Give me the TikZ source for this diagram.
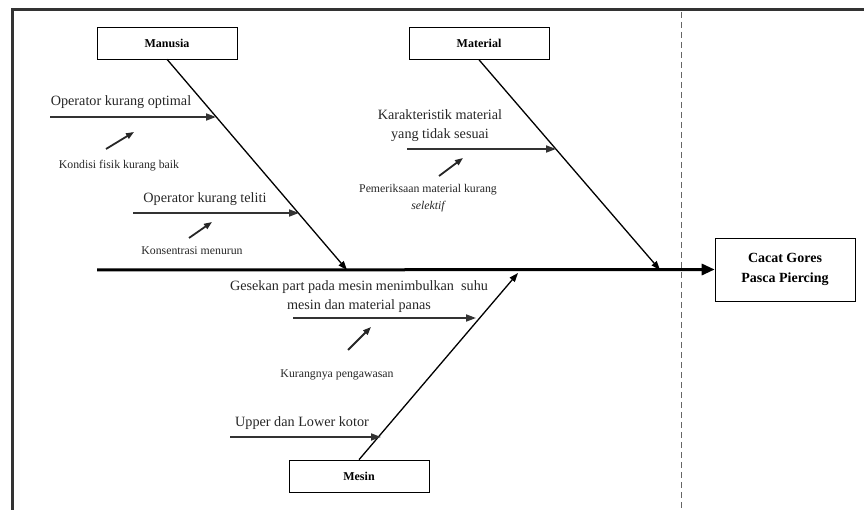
\documentclass[tikz,border=0pt]{standalone}
\usepackage{fontspec}
\setmainfont{Liberation Serif}
\usetikzlibrary{arrows.meta}
\begin{document}
\begin{tikzpicture}[x=1pt,y=-1pt,
  catbox/.style={draw,line width=0.6pt,minimum width=140pt,minimum height=32pt,inner sep=0pt,font=\fontsize{12}{14}\selectfont\bfseries},
  bone/.style={line width=1.3pt,-{Triangle[length=9pt,width=6.5pt]}},
  branch/.style={line width=1.8pt,draw=black!80,-{Triangle[length=10pt,width=7pt]}},
  subarrow/.style={line width=1.8pt,draw=black!85,-{Triangle[length=8pt,width=6pt]}},
  lbl/.style={font=\fontsize{14.2}{19}\selectfont,text=black!85,inner sep=0pt,align=center},
  slbl/.style={font=\fontsize{11.8}{17}\selectfont,text=black!85,inner sep=0pt,align=center}]
\useasboundingbox (0,0) rectangle (864,510);
% frame
\draw[line width=3pt,black!80] (864,10) -- (12,10) -- (12,510);
\draw[dashed,black!60,line width=0.6pt,dash pattern=on 6pt off 4pt] (681,12) -- (681,510);
% boxes
\node[catbox] (man) at (167,43) {Manusia};
\node[catbox] (mat) at (479,43.5) {Material};
\node[catbox] (mes) at (359,476) {Mesin};
\node[draw,line width=0.6pt,minimum width=140pt,minimum height=63pt,inner sep=0pt,align=center,font=\fontsize{14}{20}\selectfont\bfseries] (eff) at (785,269.5) {Cacat Gores\\Pasca Piercing};
% spine
\coordinate (s0) at (97,270);
\coordinate (pman) at (347,270);
\coordinate (pmat) at (660,270);
\coordinate (pmes) at (518,273);
\draw[line width=3pt,-{Triangle[length=13pt,width=11pt]}] (s0) -- (eff.west);
% bones
\draw[bone] (man.south) -- (pman);
\draw[bone] (mat.south) -- (pmat);
\draw[bone] (mes.north) -- (pmes);
% Manusia causes
\coordinate (a1s) at (50,117);
\coordinate (a1e) at (216,117);
\draw[branch] (a1s) -- (a1e);
\node[lbl] (t1) at (121,102) {Operator kurang optimal};
\coordinate (b1s) at (106,149); \coordinate (b1e) at (134,132);
\draw[subarrow] (b1s) -- (b1e);
\node[slbl] (t2) at (119,166) {Kondisi fisik kurang baik};
\coordinate (a2s) at (133,213);
\coordinate (a2e) at (299,213);
\draw[branch] (a2s) -- (a2e);
\node[lbl] (t3) at (205,199) {Operator kurang teliti};
\coordinate (b2s) at (189,238); \coordinate (b2e) at (212,222);
\draw[subarrow] (b2s) -- (b2e);
\node[slbl] (t4) at (192,251) {Konsentrasi menurun};
% Material causes
\node[lbl] (t5) at (440,126) {Karakteristik material\\yang tidak sesuai};
\coordinate (a3s) at (407,149);
\coordinate (a3e) at (556,149);
\draw[branch] (a3s) -- (a3e);
\coordinate (b3s) at (439,176); \coordinate (b3e) at (463,158);
\draw[subarrow] (b3s) -- (b3e);
\node[slbl] (t6) at (428,198) {Pemeriksaan material kurang\\\itshape selektif};
% Mesin causes
\node[lbl] (t7) at (359,297) {Gesekan part pada mesin menimbulkan\ \ suhu\\mesin dan material panas};
\coordinate (a4s) at (293,318);
\coordinate (a4e) at (476,318);
\draw[branch] (a4s) -- (a4e);
\coordinate (b4s) at (348,350); \coordinate (b4e) at (371,327);
\draw[subarrow] (b4s) -- (b4e);
\node[slbl] (t8) at (337,375) {Kurangnya pengawasan};
\node[lbl] (t9) at (302,423) {Upper dan Lower kotor};
\coordinate (a5s) at (230,437);
\coordinate (a5e) at (381,437);
\draw[branch] (a5s) -- (a5e);
\end{tikzpicture}
\end{document}
